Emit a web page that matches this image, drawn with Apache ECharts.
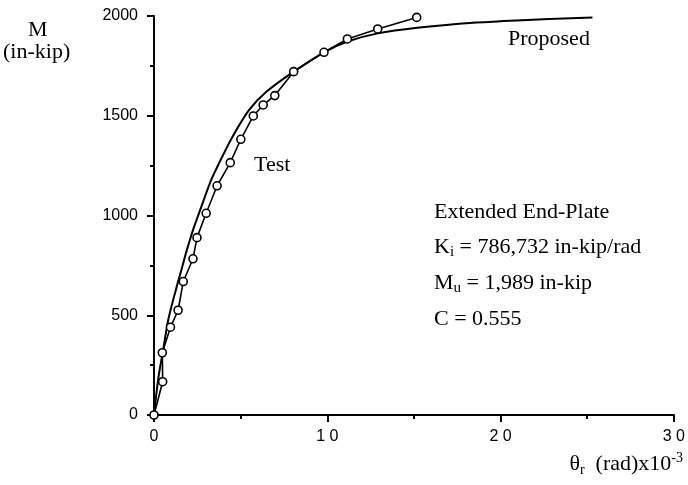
<!DOCTYPE html>
<html>
<head>
<meta charset="utf-8">
<script src="https://cdn.jsdelivr.net/npm/echarts@6/dist/echarts.min.js"></script>
<style>
  html, body { margin: 0; padding: 0; background: #fff; }
  #main { width: 688px; height: 485px; }
</style>
</head>
<body>
<div id="main"></div>
<script>
// test points: rotation (rad x10^-3), moment (in-kip)
var testTheta = [0, 0.5, 0.48, 0.95, 1.39, 1.69, 2.25, 2.48, 3.01, 3.64, 4.4, 5.01, 5.73, 6.3, 6.97, 8.06, 9.81, 11.16, 12.91, 15.16];
var testM = [0, 167, 312, 440, 525, 669, 783, 889, 1011, 1149, 1265, 1382, 1499, 1554, 1601, 1721, 1818, 1885, 1935, 1993];

// proposed curve
var propTheta = [0, 0.25, 0.53, 0.82, 1.26, 1.58, 1.87, 2.25, 2.63, 3.3, 3.77, 4.5, 5.49, 6.5, 8.06, 9.81, 11.16, 12.91, 15.2, 18.6, 20.9, 25.3];
var propM = [0, 185, 326, 476, 627, 727, 819, 927, 1019, 1178, 1265, 1390, 1529, 1621, 1721, 1818, 1872, 1913, 1941, 1967, 1978, 1993];

var xTicks = [0, 10, 20, 30];
var yTicks = [0, 500, 1000, 1500, 2000];

function pairs(xs, ys) {
  var out = [];
  for (var i = 0; i < xs.length; i++) out.push([xs[i], ys[i]]);
  return out;
}

var serif = "'Liberation Serif', 'DejaVu Serif', serif";
var sans = "'Liberation Sans', Arial, sans-serif";
var big = "22px " + serif;

var chart = echarts.init(document.getElementById("main"));
chart.setOption({
  backgroundColor: "#fff",
  animation: false,
  grid: { left: 154, right: 9, top: 16, bottom: 70 },
  xAxis: {
    type: "value",
    min: xTicks[0],
    max: xTicks[xTicks.length - 1],
    interval: 10,
    axisLine: { lineStyle: { color: "#000", width: 2 } },
    axisTick: { show: true, length: 7, lineStyle: { color: "#000", width: 2 } },
    minorTick: { show: true, splitNumber: 2, length: 4, lineStyle: { color: "#000", width: 2 } },
    splitLine: { show: false },
    axisLabel: {
      color: "#000", fontFamily: sans, fontSize: 16, margin: 14,
      formatter: function (v) { return String(v).split("").join(" "); }
    }
  },
  yAxis: {
    type: "value",
    min: yTicks[0],
    max: yTicks[yTicks.length - 1],
    interval: 500,
    axisLine: { show: true, lineStyle: { color: "#000", width: 2 } },
    axisTick: { show: true, length: 7, lineStyle: { color: "#000", width: 2 } },
    minorTick: { show: true, splitNumber: 2, length: 4, lineStyle: { color: "#000", width: 2 } },
    splitLine: { show: false },
    axisLabel: {
      color: "#000", fontFamily: sans, fontSize: 16, margin: 16,
      formatter: function (v) { return String(v); }
    }
  },
  series: [
    {
      name: "Proposed",
      type: "line",
      data: pairs(propTheta, propM),
      smooth: 0.3,
      showSymbol: false,
      lineStyle: { color: "#000", width: 2 },
      z: 2
    },
    {
      name: "Test",
      type: "line",
      data: pairs(testTheta, testM),
      symbol: "circle",
      symbolSize: 8,
      itemStyle: { color: "#fff", borderColor: "#000", borderWidth: 1.6 },
      lineStyle: { color: "#000", width: 1.6 },
      z: 3
    }
  ],
  graphic: [
    // y axis title
    { type: "text", left: 28, top: 19, style: { text: "M", font: big, fill: "#000" } },
    { type: "text", left: 3, top: 41, style: { text: "(in-kip)", font: big, fill: "#000" } },
    // x axis title
    {
      type: "text", right: 5, top: 451,
      style: {
        text: "{a|θ}{s|r}{a|  (rad)x10}{p|-3}",
        fill: "#000",
        rich: {
          a: { fontFamily: serif, fontSize: 22, lineHeight: 26 },
          s: { fontFamily: serif, fontSize: 14, lineHeight: 14, verticalAlign: "bottom" },
          p: { fontFamily: serif, fontSize: 14, lineHeight: 14, verticalAlign: "top" }
        }
      }
    },
    // curve labels
    { type: "text", left: 254, top: 154, style: { text: "Test", font: big, fill: "#000" } },
    { type: "text", left: 508, top: 28, style: { text: "Proposed", font: big, fill: "#000" } },
    // parameters
    { type: "text", left: 434, top: 201, style: { text: "Extended End-Plate", font: big, fill: "#000" } },
    {
      type: "text", left: 434, top: 236,
      style: {
        text: "{a|K}{s|i}{a| = 786,732 in-kip/rad}",
        fill: "#000",
        rich: {
          a: { fontFamily: serif, fontSize: 22, lineHeight: 26 },
          s: { fontFamily: serif, fontSize: 15, lineHeight: 15, verticalAlign: "bottom" }
        }
      }
    },
    {
      type: "text", left: 434, top: 272,
      style: {
        text: "{a|M}{s|u}{a| = 1,989 in-kip}",
        fill: "#000",
        rich: {
          a: { fontFamily: serif, fontSize: 22, lineHeight: 26 },
          s: { fontFamily: serif, fontSize: 15, lineHeight: 15, verticalAlign: "bottom" }
        }
      }
    },
    { type: "text", left: 434, top: 308, style: { text: "C = 0.555", font: big, fill: "#000" } }
  ]
});
</script>
</body>
</html>
